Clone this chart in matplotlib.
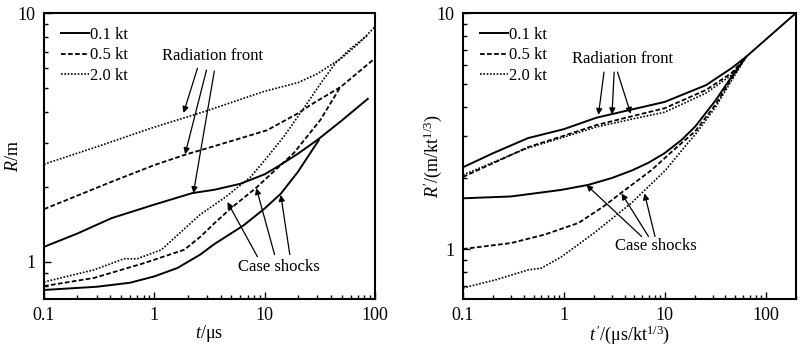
import matplotlib
matplotlib.use("Agg")
import matplotlib.pyplot as plt
from matplotlib.lines import Line2D

plt.rcParams['font.family'] = ['Liberation Serif', 'DejaVu Serif']
plt.rcParams['mathtext.fontset'] = 'custom'
plt.rcParams['mathtext.rm'] = 'Liberation Serif'
plt.rcParams['mathtext.it'] = 'Liberation Serif:italic'

# ---- left panel: R vs t ----
rad01_t = [0.1, 0.2, 0.41, 1, 2.2, 3.5, 6, 10, 13, 20, 30, 50, 86]
rad01_R = [1.15, 1.30, 1.50, 1.70, 1.89, 1.95, 2.06, 2.25, 2.41, 2.72, 3.09, 3.7, 4.52]
rad05_t = [0.1, 0.41, 1, 1.87, 3.5, 10.5, 20, 26, 49, 98]
rad05_R = [1.63, 2.10, 2.45, 2.69, 2.92, 3.38, 3.95, 4.27, 5.05, 6.53]
rad20_t = [0.1, 0.3, 1, 3, 10, 20, 30, 50, 70, 100]
rad20_R = [2.47, 2.9, 3.48, 4.05, 4.85, 5.25, 5.7, 6.6, 7.5, 8.8]

cs01_t = [0.1, 0.3, 0.6, 1, 1.62, 2.6, 3.5, 6.4, 10, 14, 20, 31]
cs01_R = [0.772, 0.795, 0.825, 0.875, 0.946, 1.07, 1.18, 1.40, 1.64, 1.88, 2.3, 3.09]
cs05_t = [0.1, 0.285, 0.81, 1.87, 2.6, 3.5, 5, 8.3, 18.4, 32, 48]
cs05_R = [0.80, 0.863, 0.99, 1.12, 1.26, 1.43, 1.65, 1.98, 2.74, 3.72, 5.0]
cs20_t = [0.1, 0.285, 0.53, 0.70, 1.16, 2.6, 4.4, 7.5, 10.6, 15, 23, 33, 44, 60, 85]
cs20_R = [0.831, 0.93, 1.03, 1.03, 1.12, 1.55, 1.82, 2.2, 2.64, 3.2, 4.19, 5.3, 6.3, 7.2, 8.1]

# ---- right panel: scaled R' vs t' ----
rrad01_t = [0.1, 0.2, 0.44, 1, 2.1, 4.7, 10, 25.7, 46, 64, 200]
rrad01_R = [2.22, 2.55, 2.95, 3.22, 3.6, 3.9, 4.2, 4.95, 5.84, 6.52, 10.0]
rrad05_t = [0.1, 0.44, 1, 2.1, 4.7, 10, 25.7, 46, 64]
rrad05_R = [2.02, 2.7, 3.02, 3.35, 3.65, 3.95, 4.72, 5.57, 6.52]
rrad20_t = [0.1, 0.44, 1, 2.1, 4.7, 10, 25.7, 46, 64]
rrad20_R = [2.06, 2.68, 2.98, 3.29, 3.55, 3.8, 4.58, 5.46, 6.52]

rcs01_t = [0.1, 0.3, 0.94, 1.75, 3.0, 4.7, 6.9, 10, 14.7, 20, 32, 45, 64]
rcs01_R = [1.64, 1.67, 1.78, 1.87, 2.0, 2.15, 2.32, 2.55, 2.9, 3.3, 4.27, 5.3, 6.52]
rcs05_t = [0.1, 0.3, 0.64, 1.4, 2.5, 3.7, 7.4, 12.9, 20, 32, 45, 64]
rcs05_R = [1.0, 1.06, 1.15, 1.29, 1.52, 1.73, 2.16, 2.68, 3.15, 4.1, 5.2, 6.52]
rcs20_t = [0.1, 0.21, 0.44, 0.6, 0.94, 2.0, 4.7, 10.2, 16.2, 20, 32, 45, 64]
rcs20_R = [0.684, 0.74, 0.815, 0.83, 0.925, 1.17, 1.57, 2.16, 2.75, 3.05, 4.0, 5.1, 6.52]

legend_labels = ['0.1 kt', '0.5 kt', '2.0 kt']

styles = [dict(color='black', lw=1.4, ls='-'),
          dict(color='black', lw=1.3, ls=(0, (2.6, 1.3))),
          dict(color='black', lw=1.2, ls=(0, (1.0, 1.0)))]

fig = plt.figure(figsize=(8.07, 3.5), dpi=100)
axL = fig.add_axes([44/807, 51/350, 331/807, 286/350])
axR = fig.add_axes([463/807, 51/350, 333/807, 286/350])

for t, R, st in zip([rad01_t, rad05_t, rad20_t], [rad01_R, rad05_R, rad20_R], styles):
    axL.plot(t, R, **st)
for t, R, st in zip([cs01_t, cs05_t, cs20_t], [cs01_R, cs05_R, cs20_R], styles):
    axL.plot(t, R, **st)
for t, R, st in zip([rrad01_t, rrad05_t, rrad20_t], [rrad01_R, rrad05_R, rrad20_R], styles):
    axR.plot(t, R, **st)
for t, R, st in zip([rcs01_t, rcs05_t, rcs20_t], [rcs01_R, rcs05_R, rcs20_R], styles):
    axR.plot(t, R, **st)

axL.set_xlim(0.1, 100)
axL.set_ylim(0.71, 10)
axR.set_xlim(0.1, 200)
axR.set_ylim(0.614, 10)

for ax in (axL, axR):
    ax.set_xscale('log')
    ax.set_yscale('log')
    ax.set_xticks([0.1, 1, 10, 100])
    ax.set_xticklabels(['0.1', '1', '10', '100'])
    ax.set_yticks([1, 10])
    ax.set_yticklabels(['1', '10'])
    ax.tick_params(which='both', direction='in', top=False, right=False,
                   labelsize=13, width=1.0)
    ax.tick_params(which='major', length=5, pad=6)
    ax.tick_params(which='minor', length=3)
    ax.yaxis.set_minor_formatter(matplotlib.ticker.NullFormatter())
    ax.xaxis.set_minor_formatter(matplotlib.ticker.NullFormatter())
    for sp in ax.spines.values():
        sp.set_linewidth(1.5)
    handles = [Line2D([], [], **st) for st in styles]
    ax.legend(handles, legend_labels, loc='upper left', frameon=False,
              fontsize=12, handlelength=1.7, handletextpad=0.05,
              labelspacing=0.25, borderaxespad=0, borderpad=0,
              bbox_to_anchor=(0.05, 0.95))

axL.set_xlabel(r'$t$/μs', fontsize=13)
axL.set_ylabel(r'$R$/m', fontsize=13)
axR.set_xlabel(r"$t\,'$/(μs/kt$^{1/3}$)", fontsize=13)
axR.set_ylabel(r"$R'$/(m/kt$^{1/3}$)", fontsize=13)
axL.xaxis.set_label_coords(0.5, -0.085)
axR.xaxis.set_label_coords(0.5, -0.085)
axL.yaxis.set_label_coords(-0.066, 0.5)
axR.yaxis.set_label_coords(-0.057, 0.5)

arrow = dict(arrowstyle='-|>', color='black', lw=0.9, mutation_scale=9,
             shrinkA=0, shrinkB=0)

# left annotations
axL.text(3.37, 6.72, 'Radiation front', fontsize=12, ha='center', va='center')
for (x0, y0), (x1, y1) in zip([(2.46, 6.0), (2.97, 5.9), (3.5, 5.85)],
                              [(1.84, 3.97), (1.9, 2.71), (2.26, 1.89)]):
    axL.annotate('', xy=(x1, y1), xytext=(x0, y0), arrowprops=arrow)
axL.text(13.4, 0.955, 'Case shocks', fontsize=12, ha='center', va='center')
for (x0, y0), (x1, y1) in zip([(8.6, 1.05), (12.3, 1.07), (16.9, 1.07)],
                              [(4.6, 1.74), (8.4, 1.98), (14, 1.86)]):
    axL.annotate('', xy=(x1, y1), xytext=(x0, y0), arrowprops=arrow)

# right annotations
axR.text(3.82, 6.38, 'Radiation front', fontsize=12, ha='center', va='center')
for (x0, y0), (x1, y1) in zip([(2.5, 5.62), (3.15, 5.62), (3.4, 5.62)],
                              [(2.2, 3.7), (3.0, 3.72), (4.6, 3.74)]):
    axR.annotate('', xy=(x1, y1), xytext=(x0, y0), arrowprops=arrow)
axR.text(8.1, 1.03, 'Case shocks', fontsize=12, ha='center', va='center')
for (x0, y0), (x1, y1) in zip([(5.9, 1.13), (6.9, 1.13), (8.0, 1.13)],
                              [(1.67, 1.87), (3.73, 1.72), (6.3, 1.72)]):
    axR.annotate('', xy=(x1, y1), xytext=(x0, y0), arrowprops=arrow)

fig.savefig('out.png', dpi=100)
